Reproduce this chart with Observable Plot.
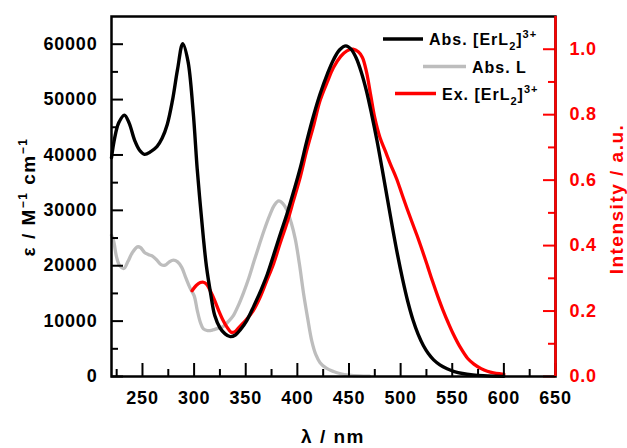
<!DOCTYPE html>
<html><head><meta charset="utf-8">
<script src="https://cdn.jsdelivr.net/npm/d3@7"></script>
<script src="https://cdn.jsdelivr.net/npm/@observablehq/plot@0.6"></script>
<style>
html,body{margin:0;padding:0;background:#fff;}
#chart{position:relative;width:627px;height:448px;}
</style>
</head><body><div id="chart"></div>
<script>
// ---- data ----
const absErL2Nm  = [220,223,227,232.5,237,242.5,247,252,258,264,269,274,279,284,289,294,299,303,306,309,312,316,320,325,330,335,340,345,351,358,365,371,378,384,390,397,403,409,416,422,429,435,441,447,452,457,462,467,472,477,482,487,492,497,502,507,512,517,522,527,532,538,545,552,560,570,580,590,600];
const absErL2Eps = [39500,43000,45800,47200,45800,42600,40900,40100,40600,41500,43000,45500,49800,55500,60100,57000,48000,37500,31000,25000,19800,15000,11000,8800,7700,7200,7500,8500,10100,12800,15700,18500,22500,26000,29400,33800,37800,42400,47300,51000,54600,57200,59000,59700,59100,57500,54900,51500,47300,42700,37600,32300,27000,22000,17500,13500,10200,7600,5600,4100,3000,2100,1400,900,550,300,150,70,30];

const absLNm  = [220,222,225,228,232,236,240,245,248,252,256,260,264,268,272,276,280,284,288,292,296,300,303,306,309,313,318,323,328,333,338,343,348,353,358,363,368,373,378,382,386,390,394,398,402,406,410,414,418,422,428,435,442,450,460,470];
const absLEps = [25500,24500,21500,20000,19500,20800,22300,23400,23300,22400,22000,21700,21000,20200,20100,20700,21000,20700,19700,17800,16000,14600,12000,9800,8600,8300,8400,8700,9000,9900,11000,12900,15200,17800,20800,23700,26500,29000,31000,31700,31200,30000,27800,24800,20300,15000,10500,6400,3900,2500,1500,900,500,250,100,50];

const exNm  = [298,302,306,309,312,316,320,324,328,332,336,340,344,350,357,364,370,377,383,390,396,403,409,416,422,429,435,442,448,454,459,463,467,471,475,480,485,490,496,501,506,511,516,521,526,531,536,541,546,551,558,565,571,578,584,590,597,600];
const exInt = [0.262,0.278,0.287,0.288,0.282,0.26,0.232,0.2,0.172,0.15,0.135,0.138,0.152,0.172,0.2,0.243,0.29,0.345,0.404,0.47,0.535,0.612,0.69,0.77,0.843,0.9,0.944,0.978,0.995,1.0,0.992,0.975,0.93,0.86,0.79,0.73,0.69,0.65,0.605,0.56,0.515,0.472,0.43,0.385,0.338,0.29,0.245,0.203,0.165,0.13,0.088,0.055,0.038,0.024,0.016,0.011,0.008,0.007];

const xTicksMajor = [250,300,350,400,450,500,550,600,650];
const xTicksMinor = [225,275,325,375,425,475,525,575,625];
const yTicksMajor = [0,10000,20000,30000,40000,50000,60000];
const yTicksMinor = [5000,15000,25000,35000,45000,55000];
const rTicksMajor = [0,0.2,0.4,0.6,0.8,1.0];
const rTicksMinor = [0.1,0.3,0.5,0.7,0.9];
const xDomain = [220,650];
const yMax = 65000, rMax = 1.1;
const k = yMax / rMax;

// ---- layout ----
const W = 627, H = 448, mL = 111, mR = 72, mT = 16, mB = 72;
const fW = W - mL - mR, fH = H - mT - mB;
const font = "'Liberation Sans', Arial, Helvetica, sans-serif";
const RED = "#ff0000", GRAY = "#bdbdbd";

const black = absErL2Nm.map((x,i)=>({x, y: absErL2Eps[i]}));
const gray  = absLNm.map((x,i)=>({x, y: absLEps[i]}));
const red   = exNm.map((x,i)=>({x, y: exInt[i]*k}));

const plot = Plot.plot({
  width: W, height: H,
  marginLeft: mL, marginRight: mR, marginTop: mT, marginBottom: mB,
  style: {fontFamily: font, fontSize: "18px", fontWeight: "bold", letterSpacing: "0.8px", color: "black", background: "white"},
  x: {domain: xDomain},
  y: {domain: [0, yMax]},
  marks: [
    Plot.line(gray,  {x:"x", y:"y", curve:"catmull-rom", stroke: GRAY, strokeWidth: 3.3}),
    Plot.line(red,   {x:"x", y:"y", curve:"catmull-rom", stroke: RED, strokeWidth: 3.3}),
    Plot.line(black, {x:"x", y:"y", curve:"catmull-rom", stroke: "black", strokeWidth: 3.4}),
    // inward ticks
    Plot.tickY(yTicksMajor, {y: d=>d, stroke:"black", strokeWidth: 2, insetRight: fW - 12}),
    Plot.tickY(yTicksMinor, {y: d=>d, stroke:"black", strokeWidth: 2, insetRight: fW - 7}),
    Plot.tickX(xTicksMajor, {x: d=>d, stroke:"black", strokeWidth: 2, insetTop: fH - 13}),
    Plot.tickX(xTicksMinor, {x: d=>d, stroke:"black", strokeWidth: 2, insetTop: fH - 7}),
    Plot.tickY(rTicksMajor, {y: d=>d*k, stroke: RED, strokeWidth: 2, insetLeft: fW - 12}),
    Plot.tickY(rTicksMinor, {y: d=>d*k, stroke: RED, strokeWidth: 2, insetLeft: fW - 7}),
    Plot.frame({stroke:"black", strokeWidth: 2.5}),
    Plot.ruleX([xDomain[1]], {stroke: RED, strokeWidth: 2.5}),
    Plot.axisY({ticks: yTicksMajor, tickSize: 0, tickPadding: 14, tickFormat: d=>String(d), label: null}),
    Plot.axisX({ticks: xTicksMajor, tickSize: 0, tickPadding: 15, tickFormat: d=>String(d), label: null}),
    Plot.text(rTicksMajor, {y: d=>d*k, text: d=>d.toFixed(1), frameAnchor:"right", dx: 14, textAnchor:"start", fill: RED, fontSize: 18, fontWeight:"bold"})
  ]
});
document.getElementById("chart").appendChild(plot);

// ---- titles and legend ----
const svg = d3.select(plot);
const g = svg.append("g").attr("font-family", font).attr("font-weight", "bold");

function title(x, y, rot, fill, parts) {
  const t = g.append("text").attr("transform", `translate(${x},${y}) rotate(${rot})`)
    .attr("text-anchor","middle").attr("fill", fill).attr("font-size", 19).attr("letter-spacing","1.5px");
  parts.forEach(p => {
    const s = t.append("tspan").text(p.t);
    if (p.sup) s.attr("font-size", 12).attr("dy", -8);
    if (p.back) s.attr("dy", 8);
  });
}
title(35, 197, -90, "black", [{t:"ε / M"},{t:"−1",sup:true},{t:" cm",back:true},{t:"−1",sup:true}]);
title(333, 443, 0, "black", [{t:"λ / nm"}]);
title(623, 199, -90, RED, [{t:"Intensity / a.u."}]);

const legend = [
  {x1:383, x2:423, tx:429, base:45,   color:"black", label:"Abs.", complex:true},
  {x1:423, x2:466, tx:472, base:72.5, color:GRAY,    label:"Abs. L", complex:false},
  {x1:395, x2:436, tx:442, base:99.5, color:RED,     label:"Ex.", complex:true}
];
legend.forEach(e => {
  g.append("line").attr("x1", e.x1).attr("x2", e.x2).attr("y1", e.base-6).attr("y2", e.base-6)
    .attr("stroke", e.color).attr("stroke-width", 3.4);
  const t = g.append("text").attr("x", e.tx).attr("y", e.base).attr("font-size", 16)
    .attr("text-anchor", "start").attr("letter-spacing","1px").attr("fill","black");
  if (!e.complex) { t.text(e.label); return; }
  t.append("tspan").text(e.label + " [ErL");
  t.append("tspan").text("2").attr("font-size", 11).attr("dy", 5);
  t.append("tspan").text("]").attr("dy", -5);
  t.append("tspan").text("3+").attr("font-size", 11).attr("dy", -7);
});
</script>
</body></html>
